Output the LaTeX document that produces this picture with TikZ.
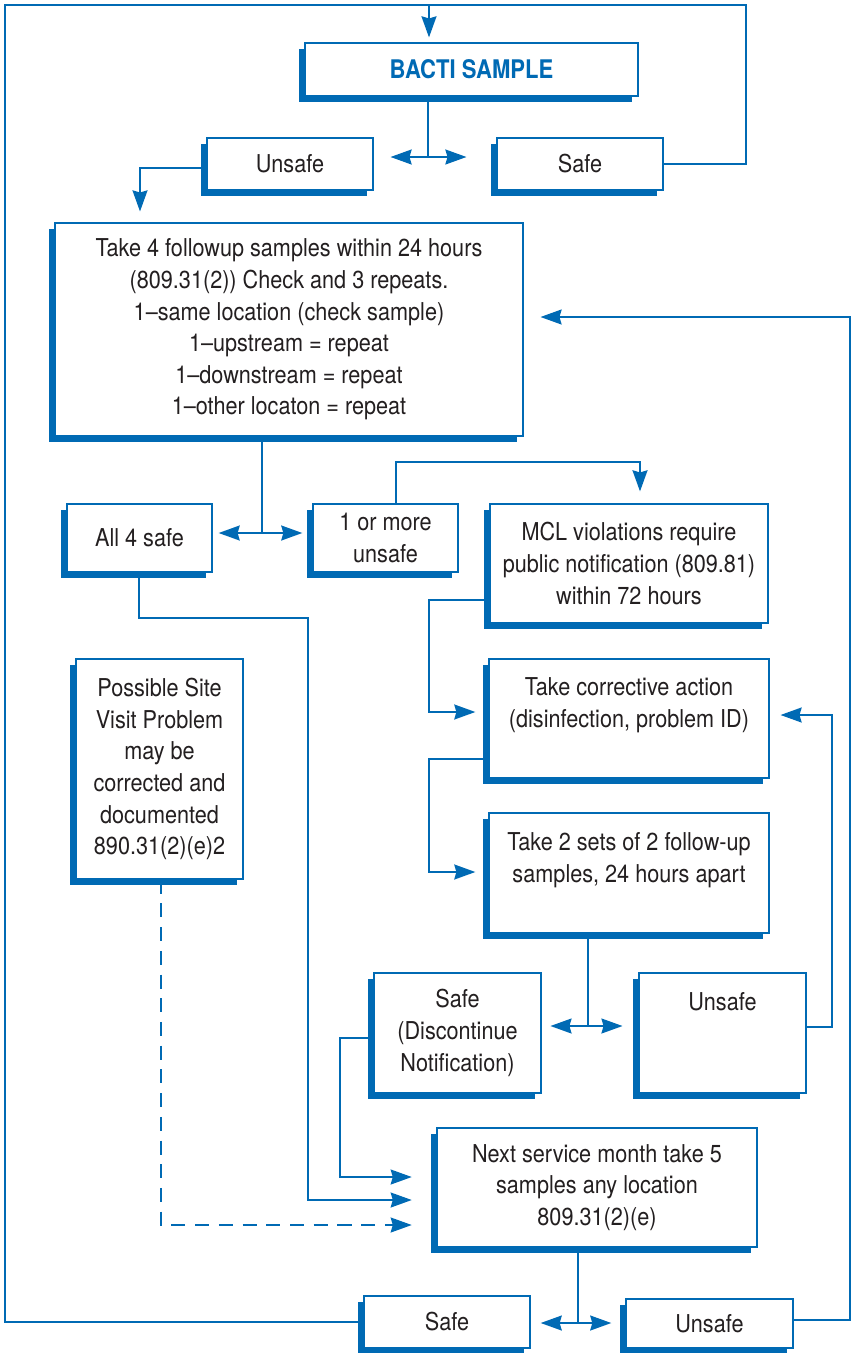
\documentclass[tikz,border=0pt]{standalone}
\usepackage{fontspec}
\setmainfont{TeX Gyre Heros}[FakeStretch=0.88]
\newfontfamily\titlefont{TeX Gyre Heros}[FakeStretch=0.86]
\usetikzlibrary{arrows.meta,shadows}
\definecolor{bblue}{RGB}{0,106,180}
\definecolor{ink}{RGB}{35,31,32}

\begin{document}
\begin{tikzpicture}[x=0.02cm,y=-0.02cm,
    box/.style={draw=bblue,line width=0.75pt,fill=white,text=ink,align=center,inner sep=0pt,
      font=\fontsize{14}{18}\selectfont,
      drop shadow={shadow xshift=-3.2pt,shadow yshift=-3.2pt,fill=bblue,opacity=1,draw=none}},
    wire/.style={draw=bblue,line width=1.15pt},
    arr/.style={wire,-{Stealth[length=12pt,width=8.5pt,inset=1.2pt]}}]
\useasboundingbox (0,0) rectangle (853,1353);

\node[box,minimum width=6.66cm,minimum height=1.06cm,text=bblue,
  font=\titlefont\bfseries\fontsize{14.6}{17}\selectfont] (bacti) at (471.5,69.5) {BACTI SAMPLE};
\node[box,minimum width=3.32cm,minimum height=1.04cm] (unsafeA) at (290,164) {Unsafe};
\node[box,minimum width=3.32cm,minimum height=1.04cm] (safeA) at (580,164) {Safe};
\node[box,minimum width=9.36cm,minimum height=4.26cm] (take4) at (289,329.5)
  {Take 4 followup samples within 24 hours\\(809.31(2)) Check and 3 repeats.\\1–same location (check sample)\\1–upstream = repeat\\1–downstream = repeat\\1–other locaton = repeat};
\node[box,minimum width=2.9cm,minimum height=1.36cm] (all4) at (139.5,538) {All 4 safe};
\node[box,minimum width=2.9cm,minimum height=1.36cm] (oneplus) at (385.5,538) {1 or more\\unsafe};
\node[box,minimum width=5.56cm,minimum height=2.38cm] (mcl) at (629,563.5)
  {MCL violations require\\public notification (809.81)\\within 72 hours};
\node[box,minimum width=5.6cm,minimum height=2.38cm] (corrective) at (629,718.5)
  {Take corrective action\\(disinfection, problem ID)\\~};
\node[box,minimum width=5.6cm,minimum height=2.4cm] (take2) at (629,873)
  {Take 2 sets of 2 follow-up\\samples, 24 hours apart\\~};
\node[box,minimum width=3.34cm,minimum height=2.4cm] (safeB) at (457.5,1033)
  {Safe\\(Discontinue\\Notification)};
\node[box,minimum width=3.34cm,minimum height=2.4cm] (unsafeB) at (722.5,1033) {Unsafe\\~\\~};
\node[box,minimum width=3.34cm,minimum height=4.4cm] (possible) at (159.5,769)
  {Possible Site\\Visit Problem\\may be\\corrected and\\documented\\890.31(2)(e)2};
\node[box,minimum width=6.4cm,minimum height=2.38cm] (nextmonth) at (597,1187.5)
  {Next service month take 5\\samples any location\\809.31(2)(e)};
\node[box,minimum width=3.32cm,minimum height=1.04cm] (safeC) at (447,1322) {Safe};
\node[box,minimum width=3.34cm,minimum height=0.98cm] (unsafeC) at (709.5,1323.5) {Unsafe};

\coordinate (tl) at (5,5);
\coordinate (tr) at (746,5);
\coordinate (tm) at (429,5);
\draw[wire] (safeA.east) -| (tr) -- (tl) |- (safeC.west);
\draw[arr,shorten >=2.8pt] (tm) -- (tm |- bacti.north);

\coordinate (s1) at (428,157);
\draw[wire] (bacti.south -| s1) -- (s1);
\draw[arr,shorten >=9.6pt] (s1) -- (s1 -| unsafeA.east);
\draw[arr,shorten >=17pt] (s1) -- (s1 -| safeA.west);

\coordinate (u1) at (140,168);
\draw[arr,shorten >=6.2pt] (unsafeA.west |- u1) -- (u1) -- (u1 |- take4.north);

\coordinate (s2) at (262,533);
\draw[wire] (take4.south -| s2) -- (s2);
\draw[arr,shorten >=3.4pt] (s2) -- (s2 -| all4.east);
\draw[arr,shorten >=5.7pt] (s2) -- (s2 -| oneplus.west);

\coordinate (k1) at (396,462);
\coordinate (k2) at (640,462);
\draw[arr,shorten >=6.8pt] (oneplus.north -| k1) -- (k1) -- (k2) -- (k2 |- mcl.north);

\coordinate (k3) at (429,600);
\coordinate (k4) at (429,712);
\draw[arr,shorten >=7.4pt] (mcl.west |- k3) -- (k3) -- (k4) -- (k4 -| corrective.west);

\coordinate (k5) at (429,759);
\coordinate (k6) at (429,872);
\draw[arr,shorten >=7.4pt] (corrective.west |- k5) -- (k5) -- (k6) -- (k6 -| take2.west);

\coordinate (s3) at (588,1026);
\draw[wire] (take2.south -| s3) -- (s3);
\draw[arr,shorten >=5pt] (s3) -- (s3 -| safeB.east);
\draw[arr,shorten >=9pt] (s3) -- (s3 -| unsafeB.west);

\coordinate (k7) at (832,1027);
\coordinate (k8) at (832,715);
\draw[arr,shorten >=6.2pt] (unsafeB.east |- k7) -- (k7) -- (k8) -- (k8 -| corrective.east);

\coordinate (k9) at (340,1038);
\coordinate (k10) at (340,1177);
\draw[arr,shorten >=14pt] (safeB.west |- k9) -- (k9) -- (k10) -- (k10 -| nextmonth.west);

\coordinate (k11) at (139,618);
\coordinate (k12) at (308,618);
\coordinate (k13) at (308,1200);
\draw[arr,shorten >=14pt] (all4.south -| k11) -- (k11) -- (k12) -- (k13) -- (k13 -| nextmonth.west);

\coordinate (k14) at (161,1225);
\draw[arr,dash pattern=on 8pt off 5.5pt,shorten >=14pt] (possible.south -| k14) -- (k14) -- (k14 -| nextmonth.west);

\coordinate (s4) at (578,1323);
\draw[wire] (nextmonth.south -| s4) -- (s4);
\draw[arr,shorten >=5.7pt] (s4) -- (s4 -| safeC.east);
\draw[arr,shorten >=8pt] (s4) -- (s4 -| unsafeC.west);

\coordinate (k15) at (850,1320);
\coordinate (k16) at (850,317);
\draw[arr,shorten >=9.6pt] (unsafeC.east |- k15) -- (k15) -- (k16) -- (k16 -| take4.east);

\end{tikzpicture}
\end{document}
